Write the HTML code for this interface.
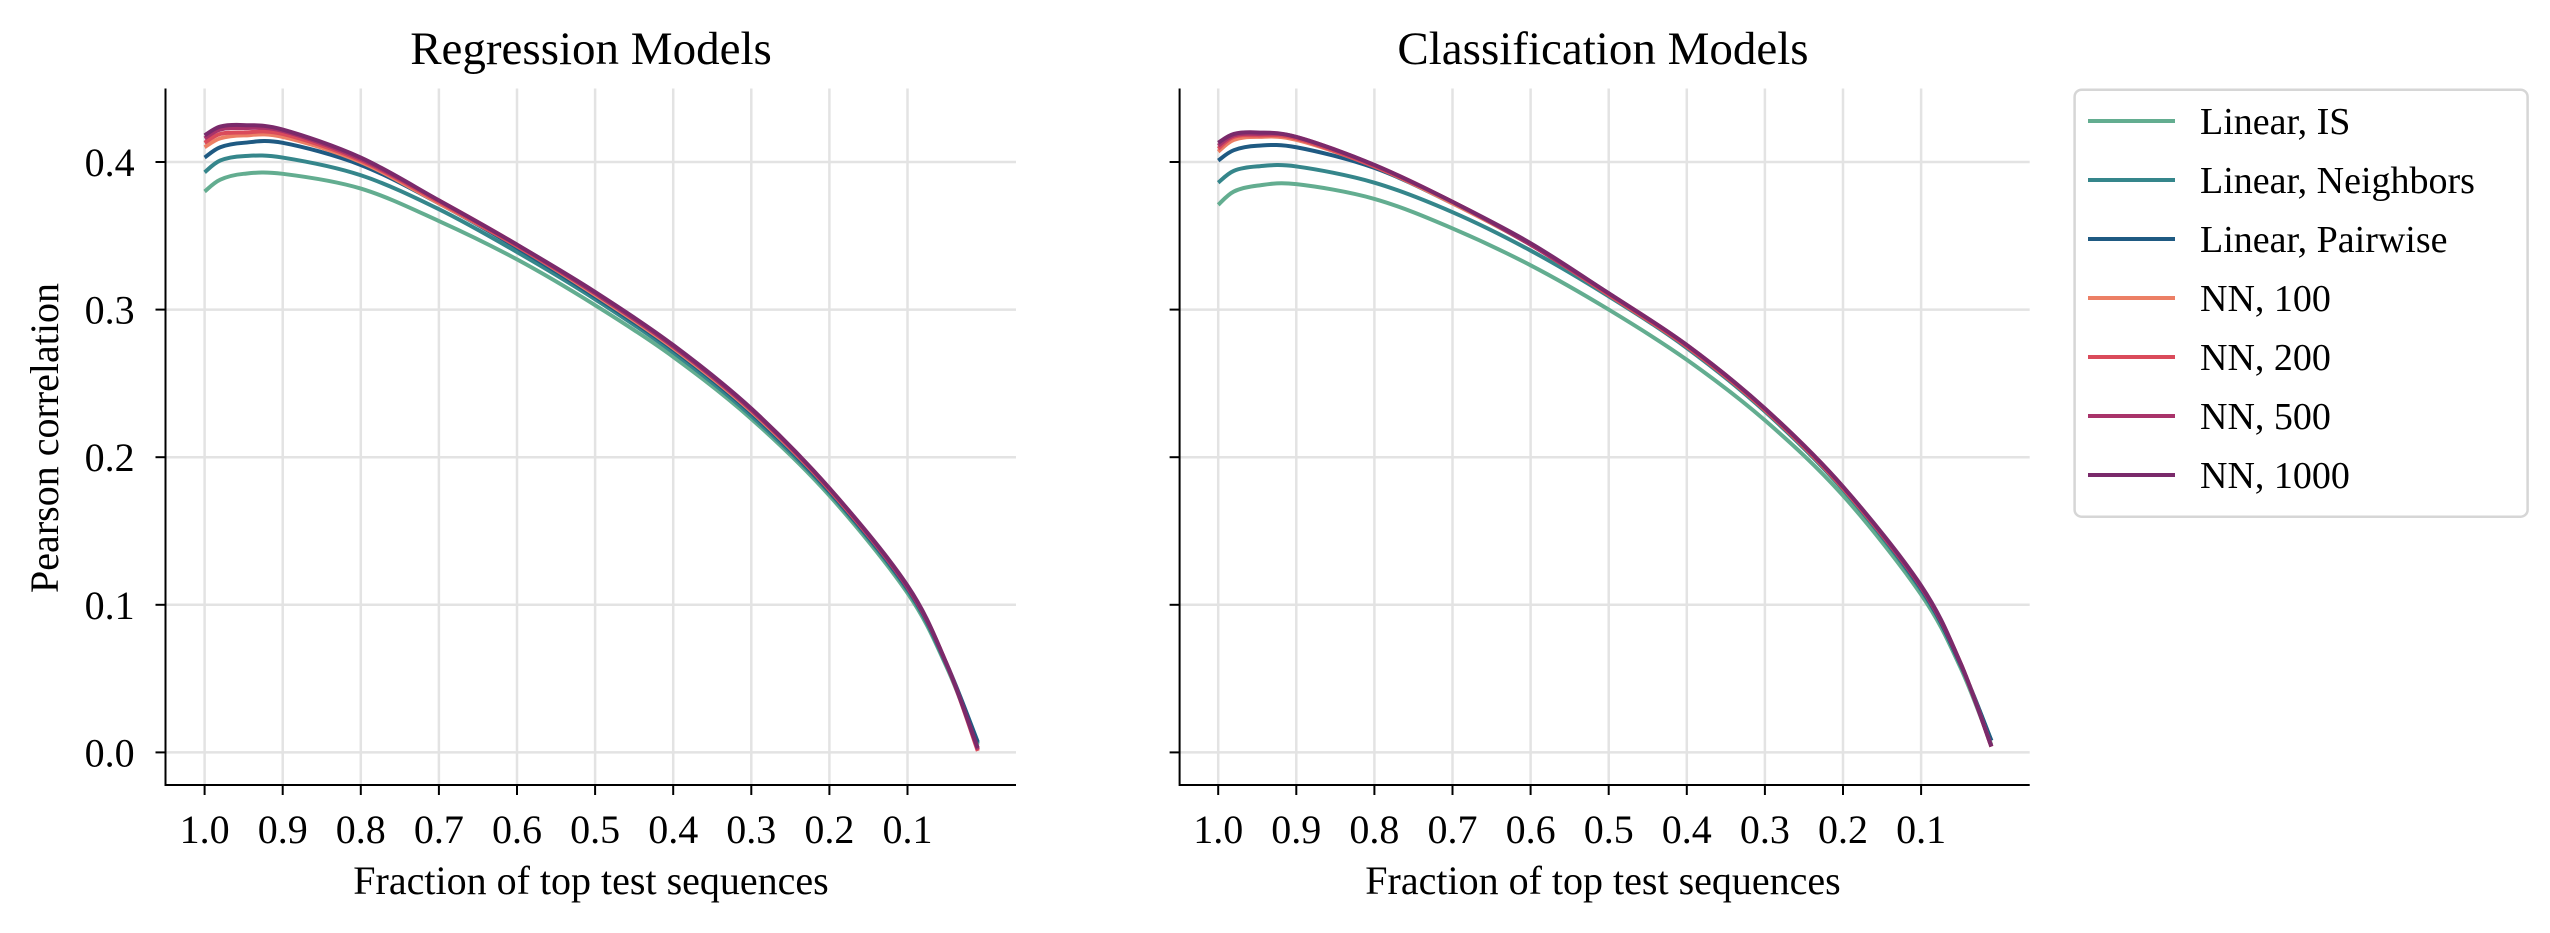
<!DOCTYPE html>
<html><head><meta charset="utf-8"><style>
html,body{margin:0;padding:0;background:#fff}
svg{display:block;font-family:"Liberation Serif",serif}
</style></head><body>
<svg id="chart" width="2550" height="933" viewBox="0 0 2550 933" xmlns="http://www.w3.org/2000/svg">
<rect width="2550" height="933" fill="#fff"/>
<g id="root"></g>
</svg>
<script>
const fractions = [1.0,0.98,0.95,0.9,0.8,0.7,0.6,0.5,0.4,0.3,0.2,0.1,0.05,0.01];
const seriesNames = ["Linear, IS","Linear, Neighbors","Linear, Pairwise","NN, 100","NN, 200","NN, 500","NN, 1000"];
const seriesColors = ["#63ad90","#35868b","#1f5a82","#ec7f65","#da4b5b","#a9336a","#7a2a6b"];
const regIS   = [0.380,0.388,0.392,0.392,0.382,0.360,0.334,0.303,0.268,0.226,0.174,0.108,0.058,0.005];
const regNb   = [0.393,0.401,0.404,0.403,0.391,0.368,0.339,0.307,0.271,0.228,0.176,0.110,0.059,0.006];
const regPw   = [0.403,0.410,0.413,0.413,0.398,0.372,0.342,0.309,0.273,0.230,0.177,0.111,0.060,0.007];
const reg100  = [0.410,0.416,0.418,0.417,0.400,0.372,0.343,0.310,0.274,0.231,0.178,0.112,0.060,0.002];
const reg200  = [0.413,0.419,0.420,0.419,0.401,0.373,0.343,0.311,0.275,0.232,0.178,0.112,0.060,0.001];
const reg500  = [0.416,0.422,0.423,0.421,0.402,0.374,0.344,0.311,0.275,0.232,0.179,0.112,0.060,0.002];
const reg1000 = [0.418,0.424,0.425,0.422,0.403,0.374,0.344,0.312,0.276,0.233,0.179,0.113,0.060,0.003];
const clsIS   = [0.371,0.380,0.384,0.385,0.375,0.355,0.330,0.300,0.266,0.225,0.174,0.107,0.058,0.005];
const clsNb   = [0.386,0.394,0.397,0.397,0.386,0.366,0.340,0.309,0.274,0.231,0.178,0.110,0.060,0.008];
const clsPw   = [0.401,0.408,0.411,0.410,0.396,0.372,0.344,0.311,0.275,0.232,0.179,0.111,0.060,0.008];
const cls100  = [0.407,0.415,0.417,0.415,0.397,0.372,0.344,0.310,0.275,0.232,0.179,0.112,0.061,0.004];
const cls200  = [0.409,0.417,0.418,0.416,0.397,0.373,0.344,0.310,0.275,0.232,0.179,0.112,0.061,0.004];
const cls500  = [0.411,0.418,0.419,0.417,0.398,0.373,0.344,0.311,0.276,0.233,0.180,0.112,0.061,0.004];
const cls1000 = [0.413,0.419,0.420,0.417,0.398,0.373,0.345,0.311,0.276,0.233,0.180,0.113,0.061,0.004];
const xTicks = [1.0,0.9,0.8,0.7,0.6,0.5,0.4,0.3,0.2,0.1];
const xTickLabels = ["1.0","0.9","0.8","0.7","0.6","0.5","0.4","0.3","0.2","0.1"];
const yTicks = [0.0,0.1,0.2,0.3,0.4];
const yTickLabels = ["0.0","0.1","0.2","0.3","0.4"];

const NS="http://www.w3.org/2000/svg";
const root=document.getElementById('root');
function el(tag,attrs,parent){const e=document.createElementNS(NS,tag);for(const k in attrs)e.setAttribute(k,attrs[k]);(parent||root).appendChild(e);return e;}
function yScale(v){return 752.4 - v*1476;}
function makeX(x0){return f=>x0 + (1-f)*781;}
function smoothPath(pts){
  let d="M"+pts[0][0].toFixed(2)+","+pts[0][1].toFixed(2);
  for(let i=0;i<pts.length-1;i++){
    const p0=pts[i-1]||pts[i],p1=pts[i],p2=pts[i+1],p3=pts[i+2]||p2;
    const c1=[p1[0]+(p2[0]-p0[0])/6,p1[1]+(p2[1]-p0[1])/6];
    const c2=[p2[0]-(p3[0]-p1[0])/6,p2[1]-(p3[1]-p1[1])/6];
    d+=" C"+c1.map(v=>v.toFixed(2)).join(",")+" "+c2.map(v=>v.toFixed(2)).join(",")+" "+p2.map(v=>v.toFixed(2)).join(",");
  }
  return d;
}
const panels=[
  {name:"regression",title:"Regression Models",left:165.5,right:1016,x0:204.6,cx:591,labels:true,data:[regIS,regNb,regPw,reg100,reg200,reg500,reg1000]},
  {name:"classification",title:"Classification Models",left:1179.6,right:2029.7,x0:1218.2,cx:1603,labels:false,data:[clsIS,clsNb,clsPw,cls100,cls200,cls500,cls1000]}
];
const axTop=88.5,axBottom=785;
panels.forEach(p=>{
  const X=makeX(p.x0);
  const g=el('g',{});
  
  
  yTicks.forEach((t,i)=>{
    const l=el('line',{x1:p.left,x2:p.right,y1:yScale(t),y2:yScale(t),stroke:'#e3e3e3','stroke-width':2.5},g);
    
    
  });
  xTicks.forEach((t,i)=>{
    const l=el('line',{x1:X(t),x2:X(t),y1:axTop,y2:axBottom,stroke:'#e3e3e3','stroke-width':2.5},g);
    
    
  });
  p.data.forEach((vals,si)=>{
    const pts=fractions.map((f,i)=>[X(f),yScale(vals[i])]);
    const path=el('path',{d:smoothPath(pts),fill:'none',stroke:seriesColors[si],'stroke-width':4,'stroke-linejoin':'round'},g);
    
    
  });
  const sp=el('path',{d:`M${p.left},${axTop} L${p.left},${axBottom} L${p.right},${axBottom}`,fill:'none',stroke:'#000','stroke-width':2},g);
  
  
  yTicks.forEach((t,i)=>{
    const y=yScale(t);
    el('line',{x1:p.left-10,x2:p.left,y1:y,y2:y,stroke:'#000','stroke-width':2},g);
    if(p.labels){
      const tx=el('text',{x:134.6,y:y+14,'text-anchor':'end','font-size':40,fill:'#000'},g);
      tx.textContent=yTickLabels[i];
      
      
    }
  });
  xTicks.forEach((t,i)=>{
    const x=X(t);
    el('line',{x1:x,x2:x,y1:axBottom,y2:axBottom+10,stroke:'#000','stroke-width':2},g);
    const tx=el('text',{x:x,y:843,'text-anchor':'middle','font-size':40,fill:'#000'},g);
    tx.textContent=xTickLabels[i];
    
    
  });
  const xl=el('text',{x:p.cx,y:894,'text-anchor':'middle','font-size':40,fill:'#000'},g);
  xl.textContent="Fraction of top test sequences";
  
  
  const tt=el('text',{x:p.cx,y:64,'text-anchor':'middle','font-size':47,fill:'#000'},g);
  tt.textContent=p.title;
  
  
});
const yl=el('text',{x:0,y:0,'text-anchor':'middle','font-size':40,fill:'#000',transform:'translate(58,438) rotate(-90)'});
yl.textContent="Pearson correlation";


const lg=el('g',{});


el('rect',{x:2074.6,y:89.7,width:453,height:427,rx:7,fill:'#fff',stroke:'#d6d6d6','stroke-width':2.5},lg);
seriesNames.forEach((n,i)=>{
  const y=121+i*59;
  const e=el('g',{},lg);
  
  
  el('line',{x1:2088,x2:2175,y1:y,y2:y,stroke:seriesColors[i],'stroke-width':4},e);
  const t=el('text',{x:2200,y:y+13,'font-size':38,fill:'#000'},e);
  t.textContent=n;
});
</script>
</body></html>
